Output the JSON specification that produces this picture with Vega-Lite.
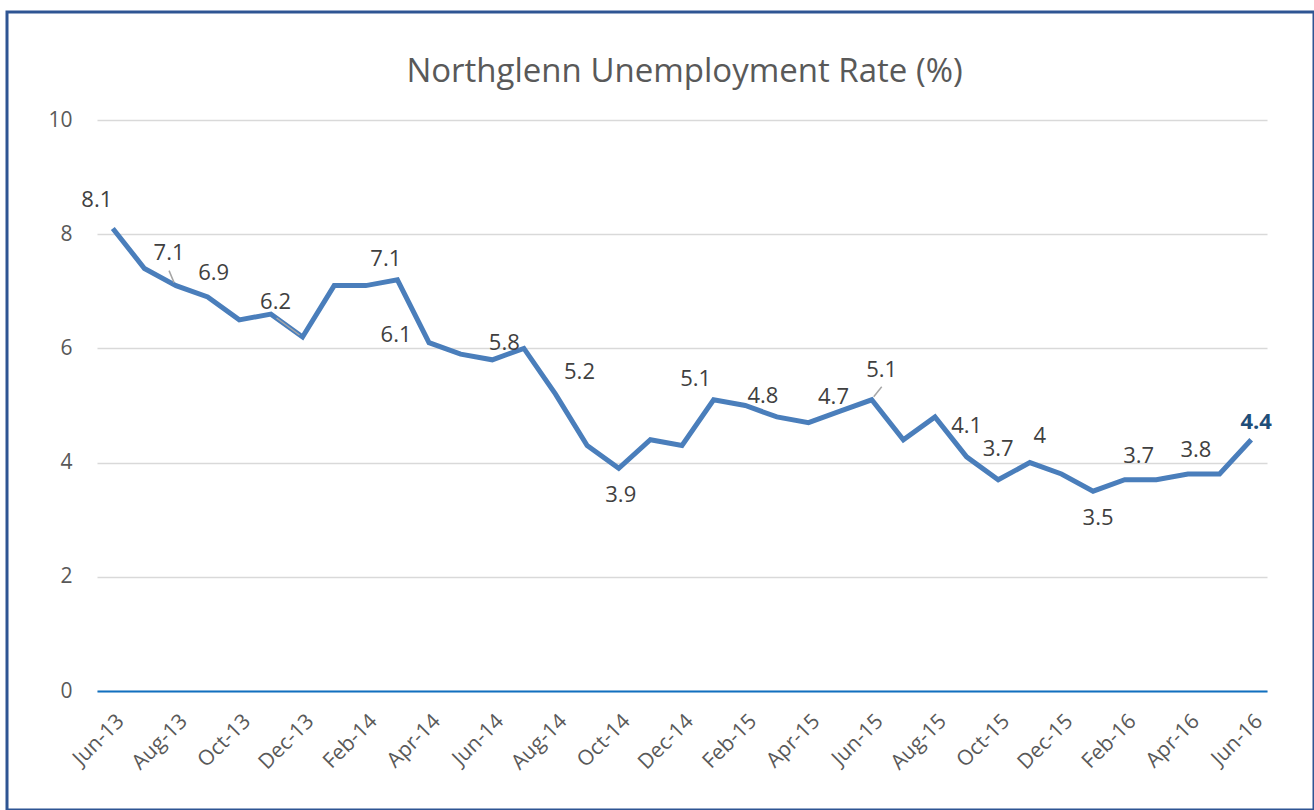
{
  "$schema": "https://vega.github.io/schema/vega-lite/v6.json",
  "width": 1307,
  "height": 798,
  "autosize": {"type": "none"},
  "padding": {"left": 7, "top": 12, "right": 0, "bottom": 0},
  "background": "white",
  "config": {
    "view": {"stroke": "#2E5593", "strokeWidth": 3},
    "font": "Open Sans",
    "text": {"font": "Open Sans", "fontSize": 22, "color": "#404040", "align": "center", "baseline": "middle"}
  },
  "title": {
    "text": "Northglenn Unemployment Rate (%)",
    "font": "Open Sans",
    "fontSize": 33,
    "fontWeight": "normal",
    "color": "#595959",
    "anchor": "middle",
    "frame": "group",
    "baseline": "alphabetic",
    "offset": -103,
    "dx": 24
  },
  "data": {
    "values": [
      {"month": "Jun-13", "rate": 8.1},
      {"month": "Jul-13", "rate": 7.4},
      {"month": "Aug-13", "rate": 7.1},
      {"month": "Sep-13", "rate": 6.9},
      {"month": "Oct-13", "rate": 6.5},
      {"month": "Nov-13", "rate": 6.6},
      {"month": "Dec-13", "rate": 6.2},
      {"month": "Jan-14", "rate": 7.1},
      {"month": "Feb-14", "rate": 7.1},
      {"month": "Mar-14", "rate": 7.2},
      {"month": "Apr-14", "rate": 6.1},
      {"month": "May-14", "rate": 5.9},
      {"month": "Jun-14", "rate": 5.8},
      {"month": "Jul-14", "rate": 6.0},
      {"month": "Aug-14", "rate": 5.2},
      {"month": "Sep-14", "rate": 4.3},
      {"month": "Oct-14", "rate": 3.9},
      {"month": "Nov-14", "rate": 4.4},
      {"month": "Dec-14", "rate": 4.3},
      {"month": "Jan-15", "rate": 5.1},
      {"month": "Feb-15", "rate": 5.0},
      {"month": "Mar-15", "rate": 4.8},
      {"month": "Apr-15", "rate": 4.7},
      {"month": "May-15", "rate": 4.9},
      {"month": "Jun-15", "rate": 5.1},
      {"month": "Jul-15", "rate": 4.4},
      {"month": "Aug-15", "rate": 4.8},
      {"month": "Sep-15", "rate": 4.1},
      {"month": "Oct-15", "rate": 3.7},
      {"month": "Nov-15", "rate": 4.0},
      {"month": "Dec-15", "rate": 3.8},
      {"month": "Jan-16", "rate": 3.5},
      {"month": "Feb-16", "rate": 3.7},
      {"month": "Mar-16", "rate": 3.7},
      {"month": "Apr-16", "rate": 3.8},
      {"month": "May-16", "rate": 3.8},
      {"month": "Jun-16", "rate": 4.4}
    ]
  },
  "encoding": {
    "x": {
      "field": "month",
      "type": "ordinal",
      "sort": null,
      "scale": {"type": "point", "padding": 0.5, "range": [90, 1260]},
      "axis": {
        "title": null,
        "orient": "bottom",
        "offset": -119,
        "values": ["Jun-13", "Aug-13", "Oct-13", "Dec-13", "Feb-14", "Apr-14", "Jun-14", "Aug-14", "Oct-14", "Dec-14", "Feb-15", "Apr-15", "Jun-15", "Aug-15", "Oct-15", "Dec-15", "Feb-16", "Apr-16", "Jun-16"],
        "domain": true,
        "domainColor": "#1170C0",
        "domainWidth": 2,
        "ticks": false,
        "grid": false,
        "labelAngle": -45,
        "labelFont": "Open Sans",
        "labelFontSize": 21,
        "labelColor": "#595959",
        "labelPadding": 19
      }
    },
    "y": {
      "field": "rate",
      "type": "quantitative",
      "scale": {"domain": [0, 10], "range": [679, 108], "nice": false},
      "axis": {
        "title": null,
        "orient": "left",
        "offset": -90,
        "values": [0, 2, 4, 6, 8, 10],
        "domain": false,
        "ticks": false,
        "grid": true,
        "gridColor": "#D9D9D9",
        "gridWidth": 1.3,
        "labelFont": "Open Sans",
        "labelFontSize": 21,
        "labelColor": "#595959",
        "labelPadding": 25
      }
    }
  },
  "layer": [
    {
      "mark": {"type": "line", "color": "#4A7EBB", "strokeWidth": 5},
      "encoding": {}
    },
    {
      "transform": [{"filter": {"field": "month", "equal": "Aug-13"}}],
      "mark": {"type": "rule", "color": "#A6A6A6", "strokeWidth": 1.5, "xOffset": -7, "yOffset": -15, "x2Offset": -2, "y2Offset": -3},
      "encoding": {"x2": {"field": "month"}, "y2": {"field": "rate"}}
    },
    {
      "transform": [{"filter": {"field": "month", "equal": "Dec-13"}}],
      "mark": {"type": "rule", "color": "#A6A6A6", "strokeWidth": 1.5, "xOffset": -26, "yOffset": -19, "x2Offset": -3, "y2Offset": -2},
      "encoding": {"x2": {"field": "month"}, "y2": {"field": "rate"}}
    },
    {
      "transform": [{"filter": {"field": "month", "equal": "Jun-15"}}],
      "mark": {"type": "rule", "color": "#A6A6A6", "strokeWidth": 1.5, "xOffset": 10, "yOffset": -13, "x2Offset": 2, "y2Offset": -3},
      "encoding": {"x2": {"field": "month"}, "y2": {"field": "rate"}}
    },
    {"transform": [{"filter": {"field": "month", "equal": "Jun-13"}}], "mark": {"type": "text", "dx": -16, "dy": -28}, "encoding": {"text": {"field": "rate", "type": "quantitative"}}},
    {"transform": [{"filter": {"field": "month", "equal": "Aug-13"}}], "mark": {"type": "text", "dx": -7, "dy": -33}, "encoding": {"text": {"field": "rate", "type": "quantitative"}}},
    {"transform": [{"filter": {"field": "month", "equal": "Sep-13"}}], "mark": {"type": "text", "dx": 6, "dy": -24}, "encoding": {"text": {"field": "rate", "type": "quantitative"}}},
    {"transform": [{"filter": {"field": "month", "equal": "Dec-13"}}], "mark": {"type": "text", "dx": -27, "dy": -35}, "encoding": {"text": {"field": "rate", "type": "quantitative"}}},
    {"transform": [{"filter": {"field": "month", "equal": "Feb-14"}}], "mark": {"type": "text", "dx": 20, "dy": -27}, "encoding": {"text": {"field": "rate", "type": "quantitative"}}},
    {"transform": [{"filter": {"field": "month", "equal": "Apr-14"}}], "mark": {"type": "text", "dx": -33, "dy": -8}, "encoding": {"text": {"field": "rate", "type": "quantitative"}}},
    {"transform": [{"filter": {"field": "month", "equal": "Jun-14"}}], "mark": {"type": "text", "dx": 12, "dy": -17}, "encoding": {"text": {"field": "rate", "type": "quantitative"}}},
    {"transform": [{"filter": {"field": "month", "equal": "Aug-14"}}], "mark": {"type": "text", "dx": 24, "dy": -22}, "encoding": {"text": {"field": "rate", "type": "quantitative"}}},
    {"transform": [{"filter": {"field": "month", "equal": "Oct-14"}}], "mark": {"type": "text", "dx": 2, "dy": 27}, "encoding": {"text": {"field": "rate", "type": "quantitative"}}},
    {"transform": [{"filter": {"field": "month", "equal": "Jan-15"}}], "mark": {"type": "text", "dx": -18, "dy": -21}, "encoding": {"text": {"field": "rate", "type": "quantitative"}}},
    {"transform": [{"filter": {"field": "month", "equal": "Mar-15"}}], "mark": {"type": "text", "dx": -14, "dy": -21}, "encoding": {"text": {"field": "rate", "type": "quantitative"}}},
    {"transform": [{"filter": {"field": "month", "equal": "Apr-15"}}], "mark": {"type": "text", "dx": 25, "dy": -26}, "encoding": {"text": {"field": "rate", "type": "quantitative"}}},
    {"transform": [{"filter": {"field": "month", "equal": "Jun-15"}}], "mark": {"type": "text", "dx": 10, "dy": -30}, "encoding": {"text": {"field": "rate", "type": "quantitative"}}},
    {"transform": [{"filter": {"field": "month", "equal": "Sep-15"}}], "mark": {"type": "text", "dx": 0, "dy": -31}, "encoding": {"text": {"field": "rate", "type": "quantitative"}}},
    {"transform": [{"filter": {"field": "month", "equal": "Oct-15"}}], "mark": {"type": "text", "dx": 0, "dy": -31}, "encoding": {"text": {"field": "rate", "type": "quantitative"}}},
    {"transform": [{"filter": {"field": "month", "equal": "Nov-15"}}], "mark": {"type": "text", "dx": 10, "dy": -27}, "encoding": {"text": {"field": "rate", "type": "quantitative"}}},
    {"transform": [{"filter": {"field": "month", "equal": "Jan-16"}}], "mark": {"type": "text", "dx": 5, "dy": 27}, "encoding": {"text": {"field": "rate", "type": "quantitative"}}},
    {"transform": [{"filter": {"field": "month", "equal": "Feb-16"}}], "mark": {"type": "text", "dx": 14, "dy": -24}, "encoding": {"text": {"field": "rate", "type": "quantitative"}}},
    {"transform": [{"filter": {"field": "month", "equal": "Apr-16"}}], "mark": {"type": "text", "dx": 8, "dy": -24}, "encoding": {"text": {"field": "rate", "type": "quantitative"}}},
    {"transform": [{"filter": {"field": "month", "equal": "Jun-16"}}], "mark": {"type": "text", "dx": 5, "dy": -18, "fontWeight": "bold", "color": "#1F4E79"}, "encoding": {"text": {"field": "rate", "type": "quantitative"}}}
  ]
}
